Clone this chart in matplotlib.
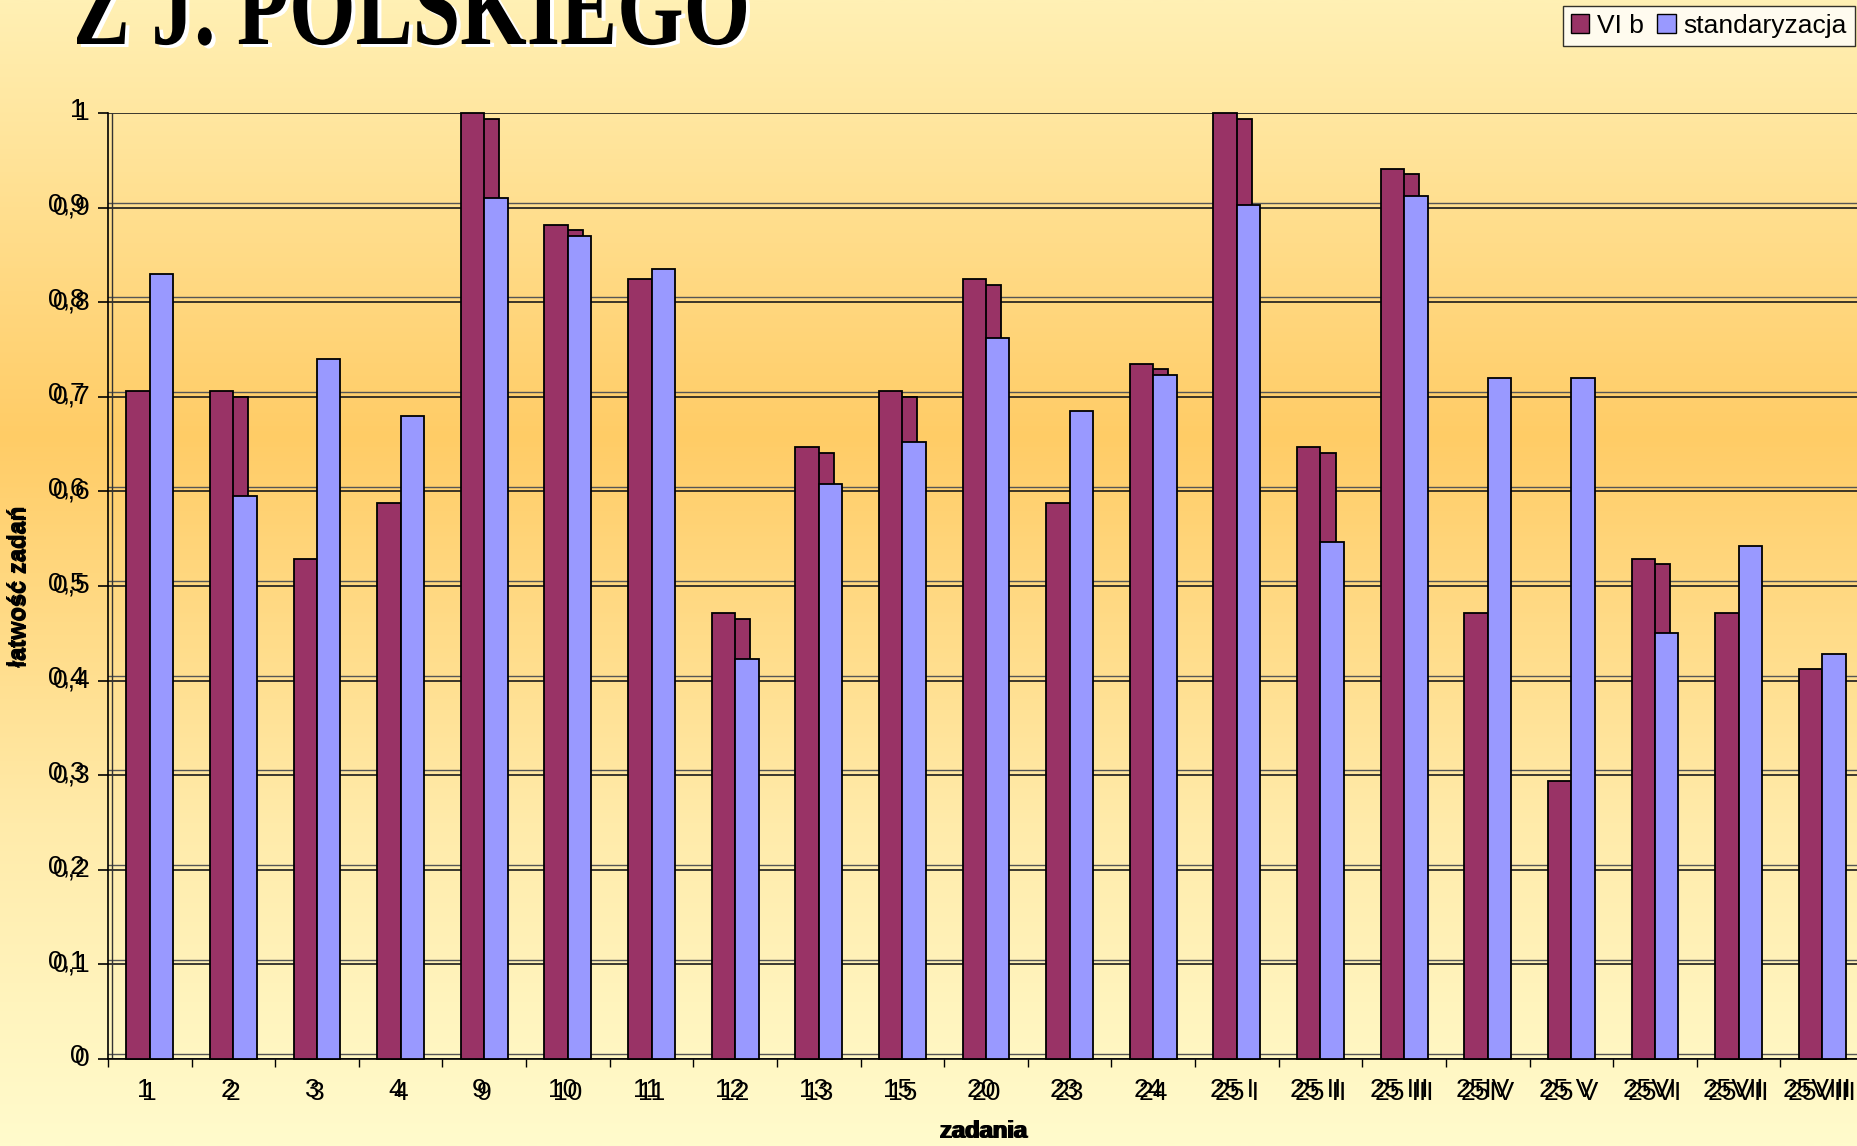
import numpy as np
import matplotlib
matplotlib.use("Agg")
import matplotlib.pyplot as plt
import matplotlib.transforms as mtransforms
from matplotlib.textpath import TextPath
from matplotlib.patches import PathPatch, Patch
from matplotlib.font_manager import FontProperties
from matplotlib.colors import LinearSegmentedColormap

# dane
zadania = ["1", "2", "3", "4", "9", "10", "11", "12", "13", "15", "20", "23", "24",
           "25 I", "25 II", "25 III", "25IV", "25 V", "25VI", "25VII", "25VIII"]
vi_b = [0.706, 0.706, 0.529, 0.588, 1.0, 0.882, 0.824, 0.471, 0.647, 0.706, 0.824,
        0.588, 0.735, 1.0, 0.647, 0.941, 0.471, 0.294, 0.529, 0.471, 0.412]
standaryzacja = [0.83, 0.595, 0.74, 0.68, 0.91, 0.87, 0.835, 0.423, 0.608, 0.652, 0.762,
                 0.685, 0.723, 0.903, 0.547, 0.912, 0.72, 0.72, 0.45, 0.542, 0.428]
y_ticks = [0, 0.1, 0.2, 0.3, 0.4, 0.5, 0.6, 0.7, 0.8, 0.9, 1.0]
y_labels = ["0", "0,1", "0,2", "0,3", "0,4", "0,5", "0,6", "0,7", "0,8", "0,9", "1"]
tytul = "Z J. POLSKIEGO"

MAROON = "#993366"
BLUE = "#9999FF"
W, H, DPI = 1858, 1146, 100
plt.rcParams["font.family"] = ["Liberation Sans", "DejaVu Sans"]

fig = plt.figure(figsize=(W / DPI, H / DPI), dpi=DPI)

# tlo - gradient
bg = fig.add_axes([0, 0, 1, 1])
cmap = LinearSegmentedColormap.from_list(
    "bg", [(0.0, "#FFF0B4"), (0.38, "#FFCC66"), (0.72, "#FFEBAA"), (1.0, "#FFFBCC")])
bg.imshow(np.linspace(0, 1, 500).reshape(-1, 1), cmap=cmap, aspect="auto",
          extent=[0, 1, 0, 1])
bg.axis("off")

# tytul (obciety u gory)
fp = FontProperties(family="Liberation Serif", weight="bold")
tp = TextPath((0, 0), tytul, size=100, prop=fp)
cap = TextPath((0, 0), "H", size=100, prop=fp).get_extents().ymax
ext = tp.get_extents()
sx = (746 - 77) / ext.width
sy = 74 / cap
px = mtransforms.Affine2D().scale(1 / DPI) + fig.dpi_scale_trans
for dx, dy, col in [(4, -3, "white"), (0, 0, "black")]:
    tr = mtransforms.Affine2D().translate(-ext.x0, 0).scale(sx, sy).translate(77 + dx, H - 44 + dy) + px
    fig.patches.append(PathPatch(tp, facecolor=col, edgecolor="none", transform=tr))

# wykres
left, right = 108, 1864
bottom, top = 1059, 113
ax = fig.add_axes([left / W, 1 - bottom / H, (right - left) / W, (bottom - top) / H])
ax.set_facecolor("none")
x = np.arange(len(zadania))
bw = 0.28
ghost = [v - 0.006 for v in vi_b]
ax.bar(x + 0.04, ghost, bw, color=MAROON, edgecolor="black", linewidth=1.3, zorder=2, clip_on=False)
ax.bar(x - bw / 2, vi_b, bw, color=MAROON, edgecolor="black", linewidth=1.3, zorder=3, clip_on=False)
ax.bar(x + bw / 2, standaryzacja, bw, color=BLUE, edgecolor="black", linewidth=1.3, zorder=3, clip_on=False)

ax.set_xlim(-0.5, len(zadania) - 0.5)
ax.set_ylim(0, 1)
for yt in y_ticks:
    ax.axhline(yt + 0.005, color="#555555", lw=1.0, zorder=1)
    ax.axhline(yt, color="#1a1a1a", lw=1.2, zorder=1)
for s in ["top", "right"]:
    ax.spines[s].set_visible(False)
ax.spines["left"].set_linewidth(1.2)
ax.spines["bottom"].set_linewidth(1.2)
ax.axvline(-0.5 + 0.05, color="#333333", lw=1.0, zorder=1)

ax.set_yticks(y_ticks)
ax.set_yticklabels([])
ax.tick_params(axis="y", length=7, width=1.2, direction="out")
ax.set_xticks(np.arange(len(zadania) + 1) - 0.5)
ax.set_xticklabels([])
ax.tick_params(axis="x", length=6, width=1.0, direction="out")

# etykiety z "duchem" (obraz jest podwojony)
ytr = mtransforms.blended_transform_factory(ax.transAxes, ax.transData)
xtr = mtransforms.blended_transform_factory(ax.transData, ax.transAxes)
for k, (gx, gy) in enumerate([(-5, 3), (0, 0)]):
    off = mtransforms.ScaledTranslation(gx / DPI, gy / DPI, fig.dpi_scale_trans)
    for yt, lab in zip(y_ticks, y_labels):
        ax.text(0, yt, lab, transform=ytr + mtransforms.ScaledTranslation(-18 / DPI, 0, fig.dpi_scale_trans) + off,
                ha="right", va="center", fontsize=19, color="black")
    for xi, lab in zip(x, zadania):
        ax.text(xi, 0, lab, transform=xtr + mtransforms.ScaledTranslation(0, -22 / DPI, fig.dpi_scale_trans) + off,
                ha="center", va="top", fontsize=19, color="black")
    lx, ly = (-2, 1) if k == 0 else (0, 0)
    fig.text((985 + lx) / W, 1 - (1132 - ly) / H, "zadania", ha="center", va="center",
             fontsize=17, fontweight="bold")
    fig.text((21 + lx) / W, 1 - (587 - ly) / H, "łatwość zadań", ha="center", va="center",
             rotation=90, fontsize=17, fontweight="bold")

handles = [Patch(facecolor=MAROON, edgecolor="black", label="VI b"),
           Patch(facecolor=BLUE, edgecolor="black", label="standaryzacja")]
leg = fig.legend(handles=handles, loc="upper right", bbox_to_anchor=(1855 / W, 1 - 6 / H),
                 ncol=2, fontsize=19, frameon=True, fancybox=False, borderpad=0.3,
                 handlelength=0.7, handleheight=0.7, handletextpad=0.3, columnspacing=0.5,
                 borderaxespad=0)
leg.get_frame().set_edgecolor("black")
leg.get_frame().set_linewidth(1.0)

fig.savefig("out.png", dpi=DPI)
